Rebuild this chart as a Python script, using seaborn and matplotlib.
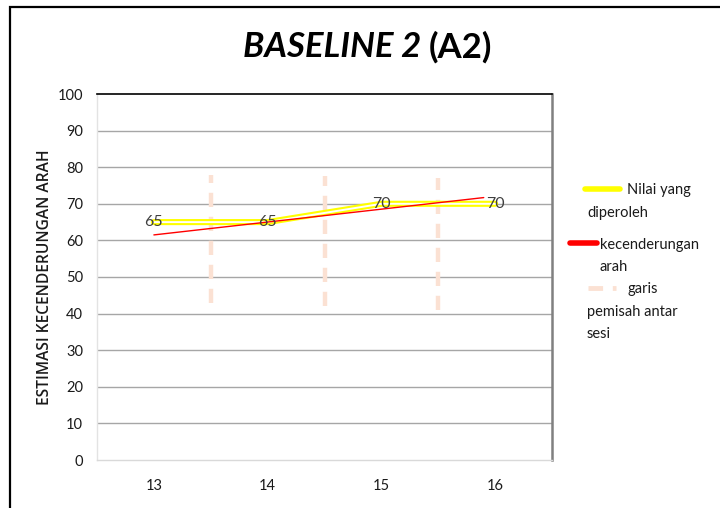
import matplotlib
matplotlib.use("Agg")
import matplotlib.pyplot as plt
from matplotlib.lines import Line2D
from matplotlib.patches import Rectangle
from matplotlib import font_manager
import seaborn as sns
import pandas as pd

# Sessions and scores
sessions = ["13", "14", "15", "16"]
scores = [65, 65, 70, 70]

# Trend line endpoints (position, value)
trend_pos = [0.0, 2.9]
trend_val = [61.5, 71.7]

# Session separators (positions and vertical extent)
sep_pos = [0.5, 1.5, 2.5]
sep_low = [43, 42, 41]
sep_high = [78, 77.5, 77]

yticks = list(range(0, 101, 10))

sns.set_theme(style="white")
plt.rcParams["font.family"] = ["Lato", "DejaVu Sans"]

installed = {f.name for f in font_manager.fontManager.ttflist}
title_family = "Liberation Sans Narrow" if "Liberation Sans Narrow" in installed else "Lato"

fig = plt.figure(figsize=(7.2, 5.08), dpi=100)
ax = fig.add_axes([97 / 720, 1 - 460 / 508, (552 - 97) / 720, (460 - 94) / 508])

df = pd.DataFrame({"pos": range(len(sessions)), "score": scores})

# Grid
for y in yticks[1:-1]:
    ax.axhline(y, color="#a6a6a6", lw=1.0, zorder=0)

# Session separators
for p, lo, hi in zip(sep_pos, sep_low, sep_high):
    ax.plot([p, p], [lo, hi], color="#fbe1d3", lw=3.2, ls=(0, (3.2, 2.2)), zorder=2)

# Scores: double yellow line
sns.lineplot(data=df, x="pos", y="score", ax=ax, color="#ffff00", lw=4.4, zorder=3)
sns.lineplot(data=df, x="pos", y="score", ax=ax, color="white", lw=1.4, zorder=3.5)

# Trend line
ax.plot(trend_pos, trend_val, color="#ff0000", lw=1.0, zorder=4)

for i, v in enumerate(scores):
    ax.text(i, v, str(v), ha="center", va="center", fontsize=11.5, color="#404040", zorder=5)

ax.set_xlim(-0.5, 3.5)
ax.set_ylim(0, 100)
ax.set_yticks(yticks)
ax.set_yticklabels([str(t) for t in yticks], fontsize=10.5, color="#1a1a1a")
ax.set_xticks(range(len(sessions)))
ax.set_xticklabels(sessions, fontsize=10.5, color="#1a1a1a")
ax.tick_params(axis="both", length=0)
ax.tick_params(axis="y", pad=10)
ax.tick_params(axis="x", pad=14)
ax.set_xlabel("")
ax.set_ylabel("ESTIMASI KECENDERUNGAN ARAH", fontsize=11.2, labelpad=3, color="#1a1a1a",
              family=["Open Sans", "DejaVu Sans"], fontweight="semibold")

ax.spines["top"].set_color("black")
ax.spines["top"].set_linewidth(1.2)
ax.spines["right"].set_color("#808080")
ax.spines["right"].set_linewidth(1.8)
ax.spines["left"].set_color("#e3e3e3")
ax.spines["left"].set_linewidth(1.0)
ax.spines["bottom"].set_color("#d9d9d9")
ax.spines["bottom"].set_linewidth(1.0)

# Title: italic part and upright part, centred together
ty = 1 - 47 / 508
t1 = fig.text(0, ty, "BASELINE 2 ", ha="left", va="center", fontsize=25,
              fontweight="bold", fontstyle="italic", color="black", family=title_family)
t2 = fig.text(0, ty, "(A2)", ha="left", va="center", fontsize=25,
              fontweight="bold", color="black", family=title_family)
fig.canvas.draw()
r = fig.canvas.get_renderer()
w1 = t1.get_window_extent(r).width / 720
w2 = t2.get_window_extent(r).width / 720
x0 = 368 / 720 - (w1 + w2) / 2
t1.set_x(x0)
t2.set_x(x0 + w1)


def fx(px):
    return px / 720


def fy(py):
    return 1 - py / 508


# Legend
fig.add_artist(Line2D([fx(585), fx(620)], [fy(189), fy(189)], color="#ffff00", lw=4))
fig.text(fx(627), fy(190), "Nilai yang", fontsize=10.5, va="center", color="#1a1a1a")
fig.text(fx(587), fy(213), "diperoleh", fontsize=10.5, va="center", color="#1a1a1a")

fig.add_artist(Line2D([fx(570), fx(597)], [fy(243), fy(243)], color="#ff0000", lw=4))
fig.text(fx(600), fy(245), "kecenderungan", fontsize=10.5, va="center", color="#1a1a1a")
fig.text(fx(600), fy(267), "arah", fontsize=10.5, va="center", color="#1a1a1a")

fig.add_artist(Line2D([fx(588), fx(616)], [fy(288), fy(288)], color="#fbe1d3", lw=3.5,
                      ls=(0, (3, 2))))
fig.text(fx(628), fy(289), "garis", fontsize=10.5, va="center", color="#1a1a1a")
fig.text(fx(587), fy(312), "pemisah antar", fontsize=10.5, va="center", color="#1a1a1a")
fig.text(fx(587), fy(334), "sesi", fontsize=10.5, va="center", color="#1a1a1a")

# Outer frame
fig.add_artist(Rectangle((fx(10), -0.05), 1.1, fy(7) + 0.05, fill=False,
                         edgecolor="black", lw=1.6, transform=fig.transFigure))

fig.savefig("out.png", dpi=100, facecolor="white")
